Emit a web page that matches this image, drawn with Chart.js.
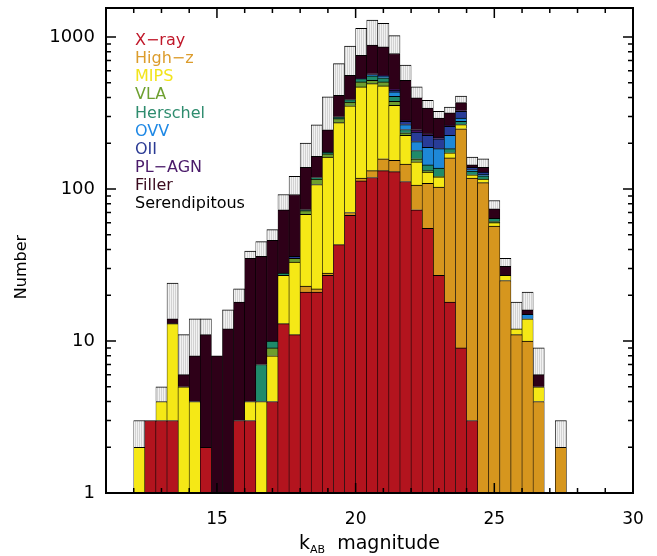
<!DOCTYPE html>
<html>
<head>
<meta charset="utf-8">
<script src="https://cdn.jsdelivr.net/npm/chart.js@4.4.0/dist/chart.umd.min.js"></script>
<style>
    body { margin: 0; background: #fff; }
    #wrap { width: 657px; height: 556px; }
</style>
</head>
<body>
<div id="wrap"><canvas id="histChart" width="657" height="556"></canvas></div>
<script>
// bin centres, 0.4 mag wide bins from 12.0 to 27.6
const binCenters = [12.2, 12.6, 13.0, 13.4, 13.8, 14.2, 14.6, 15.0, 15.4, 15.8,
                    16.2, 16.6, 17.0, 17.4, 17.8, 18.2, 18.6, 19.0, 19.4, 19.8,
                    20.2, 20.6, 21.0, 21.4, 21.8, 22.2, 22.6, 23.0, 23.4, 23.8,
                    24.2, 24.6, 25.0, 25.4, 25.8, 26.2, 26.6, 27.0, 27.4];

const xray       = [0, 3, 3, 3, 0, 0, 2, 0, 0, 3,   3, 0, 4, 13, 11, 21, 21, 27, 43, 67,
                    113, 119, 132, 130, 112, 73, 55, 27, 18, 9,   3, 0, 0, 0, 0, 0, 0, 0, 0];
const highz      = [0, 0, 0, 0, 0, 0, 0, 0, 0, 0,   0, 0, 0, 0, 0, 2, 1, 1, 0, 3,
                    5, 13, 26, 24, 34, 33, 54, 76, 142, 240,   115, 110, 57, 25, 11, 10, 4, 0, 2];
const mips       = [2, 0, 1, 10, 5, 4, 0, 0, 0, 0,   1, 4, 4, 14, 22, 45, 85, 134, 230, 282,
                    351, 361, 318, 201, 79, 45, 20, 17, 13, 16,   6, 6, 3, 2, 1, 4, 1, 0, 0];
const vla        = [0, 0, 0, 0, 0, 0, 0, 0, 0, 0,   0, 0, 1, 0, 2, 4, 9, 8, 17, 21,
                    37, 26, 30, 22, 9, 7, 3, 1, 0, 0,   0, 0, 1, 0, 0, 0, 0, 0, 0];
const herschel   = [0, 0, 0, 0, 0, 0, 0, 0, 0, 0,   0, 3, 1, 1, 0, 1, 3, 5, 8, 14,
                    26, 35, 32, 30, 12, 21, 12, 16, 11, 13,   7, 6, 3, 0, 0, 0, 0, 0, 0];
const ovv        = [0, 0, 0, 0, 0, 0, 0, 0, 0, 0,   0, 0, 0, 0, 0, 0, 0, 0, 0, 0,
                    0, 12, 16, 28, 19, 26, 44, 47, 41, 15,   3, 3, 0, 0, 0, 1, 0, 0, 0];
const oii        = [0, 0, 0, 0, 0, 0, 0, 0, 0, 0,   0, 0, 0, 0, 1, 0, 0, 0, 0, 0,
                    0, 0, 0, 11, 13, 32, 37, 30, 33, 31,   5, 4, 0, 0, 0, 0, 0, 0, 0];
const plagn      = [0, 0, 0, 0, 0, 0, 0, 0, 0, 0,   0, 0, 0, 0, 0, 0, 0, 0, 0, 0,
                    4, 6, 6, 8, 6, 8, 6, 5, 5, 4,   0, 0, 0, 0, 0, 0, 0, 0, 0];
const filler     = [0, 0, 0, 1, 1, 4, 9, 8, 12, 15,   31, 29, 36, 45, 56, 66, 45, 70, 115, 173,
                    222, 311, 301, 324, 235, 152, 110, 74, 54, 42,   5, 10, 10, 4, 0, 1, 1, 0, 0];
const serendip   = [1, 0, 1, 10, 5, 6, 3, 0, 4, 4,   4, 9, 8, 19, 29, 61, 100, 158, 255, 309,
                    380, 408, 367, 241, 133, 72, 42, 31, 29, 39,   18, 19, 10, 4, 6, 5, 3, 0, 1];

const seriesNames  = ["X\u2212ray", "High\u2212z", "MIPS", "VLA", "Herschel", "OVV", "OII", "PL\u2212AGN", "Filler", "Serendipitous"];
const seriesValues = [xray, highz, mips, vla, herschel, ovv, oii, plagn, filler, serendip];
const barColors    = ["#b3141e", "#d6961e", "#f5e816", "#6e9e2e", "#1f8a6a", "#1e88d8", "#283c98", "#4a1468", "#2e0018", null];
const textColors   = ["#c0182a", "#dc9c2c", "#f2e41c", "#6ea030", "#2e8c6e", "#1e88e5", "#2a3a94", "#4a1a6a", "#3a0a1e", "#000000"];

const xTickValues = [15, 20, 25, 30];
const yTickValues = [1, 10, 100, 1000];

const fontName = "'DejaVu Sans', sans-serif";

const ctx = document.getElementById('histChart').getContext('2d');

// light gray with thin vertical stripes for the serendipitous part
const grayFill = ctx.createPattern((function () {
    let c = document.createElement('canvas');
    c.width = 2; c.height = 1;
    let g = c.getContext('2d');
    g.fillStyle = '#f2f2f2'; g.fillRect(0, 0, 1, 1);
    g.fillStyle = '#d2d2d2'; g.fillRect(1, 0, 1, 1);
    return c;
})(), 'repeat');

// frame with inward ticks, axis titles, coloured legend
const framePlugin = {
    id: 'framePlugin',
    afterDraw(chart) {
        const { ctx, chartArea: a, scales: { x, y } } = chart;
        ctx.save();
        ctx.strokeStyle = '#000';
        ctx.lineWidth = 1.5;
        ctx.beginPath();
        for (let v = 11; v <= 30; v++) {
            let px = x.getPixelForValue(v);
            let len = v % 5 === 0 ? 10 : 5;
            ctx.moveTo(px, a.bottom); ctx.lineTo(px, a.bottom - len);
            ctx.moveTo(px, a.top); ctx.lineTo(px, a.top + len);
        }
        for (let d = 1; d <= 1000; d *= 10) {
            for (let m = 1; m < 10; m++) {
                let v = d * m;
                if (v > y.max) continue;
                let py = y.getPixelForValue(v);
                let len = m === 1 ? 10 : 5;
                ctx.moveTo(a.left, py); ctx.lineTo(a.left + len, py);
                ctx.moveTo(a.right, py); ctx.lineTo(a.right - len, py);
            }
        }
        ctx.stroke();
        ctx.lineWidth = 2;
        ctx.strokeRect(a.left, a.top, a.right - a.left, a.bottom - a.top);

        // x axis title: k_AB  magnitude
        ctx.fillStyle = '#000';
        ctx.textBaseline = 'alphabetic';
        ctx.textAlign = 'left';
        let big = "19px " + fontName, small = "11px " + fontName;
        ctx.font = big;
        let wk = ctx.measureText("k").width;
        let wm = ctx.measureText("  magnitude").width;
        ctx.font = small;
        let ws = ctx.measureText("AB").width;
        let x0 = (a.left + a.right) / 2 - (wk + ws + wm) / 2;
        let base = 549;
        ctx.font = big;
        ctx.fillText("k", x0, base);
        ctx.font = small;
        ctx.fillText("AB", x0 + wk, base + 4);
        ctx.font = big;
        ctx.fillText("  magnitude", x0 + wk + ws, base);

        // y axis title
        ctx.save();
        ctx.translate(22, 267);
        ctx.rotate(-Math.PI / 2);
        ctx.textAlign = 'center';
        ctx.textBaseline = 'middle';
        ctx.font = "16px " + fontName;
        ctx.fillText("Number", 0, 0);
        ctx.restore();

        // legend
        ctx.font = "16px " + fontName;
        ctx.textBaseline = 'middle';
        chart.data.datasets.forEach((ds, i) => {
            ctx.fillStyle = textColors[i];
            ctx.fillText(ds.label, 135, 41 + i * 18.1);
        });
        ctx.restore();
    }
};

const histChart = new Chart(ctx, {
    type: 'bar',
    data: {
        datasets: seriesNames.map((name, i) => ({
            label: name,
            data: binCenters.map((c, j) => ({ x: c, y: seriesValues[i][j] || null })),
            backgroundColor: barColors[i] || grayFill,
            borderColor: '#000',
            borderWidth: { top: 1, left: 0.6, right: 0.6, bottom: 0 },
            borderSkipped: false,
            categoryPercentage: 1,
            barPercentage: 1
        }))
    },
    options: {
        responsive: false,
        animation: false,
        layout: { padding: { top: 8, right: 24, left: 0, bottom: 0 } },
        plugins: {
            legend: { display: false },
            tooltip: { enabled: false }
        },
        scales: {
            x: {
                type: 'linear',
                min: 11,
                max: 30,
                offset: false,
                stacked: true,
                grid: { display: false, drawTicks: false },
                border: { display: false },
                ticks: {
                    padding: 16,
                    color: '#000',
                    font: { family: fontName, size: 17 },
                    maxRotation: 0,
                    autoSkip: false,
                    callback: (v) => String(v)
                },
                afterBuildTicks: (s) => { s.ticks = xTickValues.map(v => ({ value: v })); },
                afterFit: (s) => { s.height = 63; s.paddingLeft = 0; s.paddingRight = 0; }
            },
            y: {
                type: 'logarithmic',
                min: 1,
                max: 1550,
                stacked: true,
                grid: { display: false, drawTicks: false },
                border: { display: false },
                ticks: {
                    padding: 11,
                    color: '#000',
                    font: { family: fontName, size: 18 },
                    autoSkip: false,
                    callback: (v) => String(v)
                },
                afterBuildTicks: (s) => { s.ticks = yTickValues.map(v => ({ value: v })); },
                afterFit: (s) => { s.width = 106; s.paddingTop = 0; s.paddingBottom = 0; }
            }
        }
    },
    plugins: [framePlugin]
});
</script>
</body>
</html>
